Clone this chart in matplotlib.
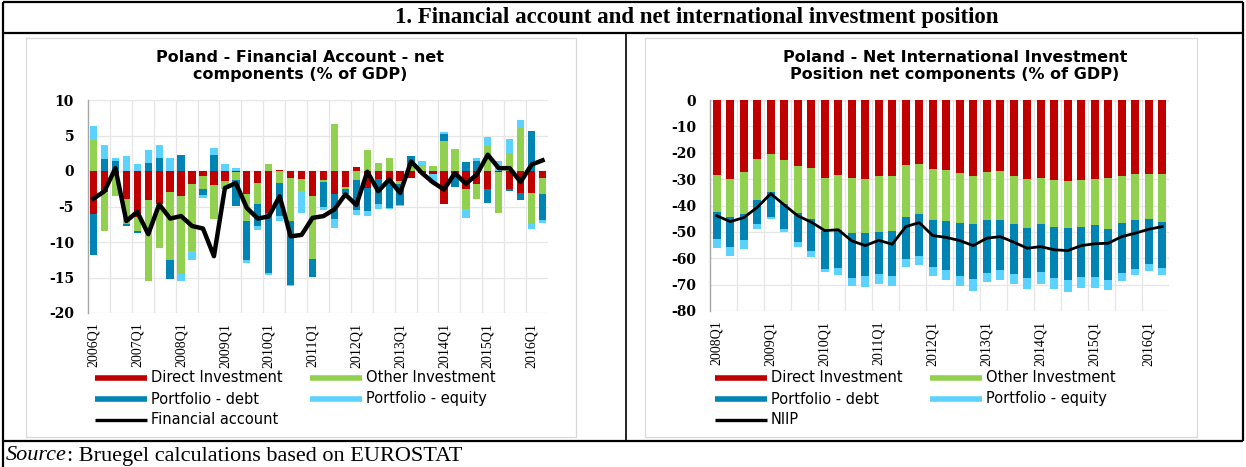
import numpy as np
import matplotlib
matplotlib.use('Agg')
import matplotlib.pyplot as plt

plt.rcParams['axes.unicode_minus'] = False

W, H = 1246, 467

# colours (Excel style)
C_DI = '#C00000'
C_OI = '#92D050'
C_PD = '#0084B4'
C_PE = '#5BD2FF'

# ---- left chart: financial account, 2006Q1 .. 2016Q2 (% of GDP)
fa_ticks = ['2006Q1', '2007Q1', '2008Q1', '2009Q1', '2010Q1', '2011Q1',
            '2012Q1', '2013Q1', '2014Q1', '2015Q1', '2016Q1']
fa_direct = [-6.1, -2.9, -0.6, -4.0, -6.5, -4.15, -4.6, -2.9, -3.55, -1.8,
             -0.75, -2.0, -1.35, -0.2, -3.3, -1.7, -5.9, 0.1, -1.0, -1.1,
             -3.55, -1.3, -3.2, -2.3, 0.5, -2.4, -1.1, -1.35, -1.4, -1.0,
             -0.3, -0.4, -4.65, -0.3, -2.55, -1.9, -2.6, -0.2, -2.55, -3.1,
             -3.1, -1.0]
fa_other = [4.3, -5.5, -2.9, -3.4, -1.9, -11.3, -6.3, -9.6, -11.0, -9.5,
            -1.8, -4.7, -1.2, -1.0, -3.7, -3.0, 1.0, -1.7, -6.1, -1.7,
            -8.9, -0.2, 6.6, -0.3, -1.25, 3.0, 1.1, 1.9, -0.4, 0.65,
            0.9, 0.7, 4.25, 2.9, -2.8, -2.0, 3.5, -5.7, 2.5, 6.1,
            -4.4, -2.2]
fa_debt = [-5.8, 1.7, 1.35, -0.4, -0.3, 1.1, 1.8, -2.7, 2.3, 0.0,
           -0.8, 2.3, 0.0, -3.8, -5.6, -3.0, -8.4, -4.6, -8.9, 0.0,
           -2.5, -3.6, -3.6, -0.6, -4.3, -3.3, -3.5, -3.8, -3.0, 1.5,
           0.0, 0.0, 0.95, -1.9, 1.3, 1.45, -1.9, 0.0, -0.3, -1.05,
           5.65, -3.7]
fa_equity = [2.1, 1.9, 0.5, 2.15, 1.0, 1.8, 1.9, 1.9, -0.9, -1.2,
             -0.45, 0.95, 1.0, 0.4, -0.3, -0.6, -0.4, -0.8, -0.25, -3.1,
             0.0, -0.4, -1.2, 0.0, -0.6, -0.6, -0.8, -0.25, -0.2, 0.0,
             0.5, -1.25, 0.35, 0.15, -1.2, 0.35, 1.3, 1.45, 2.0, 1.1,
             -0.7, -0.4]
fa_total = [-3.9, -2.85, 0.4, -7.05, -5.75, -8.9, -4.7, -6.7, -6.35, -7.75,
            -8.1, -12.0, -2.4, -1.7, -5.2, -6.7, -6.4, -3.55, -9.2, -9.0,
            -6.6, -6.35, -5.4, -3.3, -4.8, -0.1, -2.85, -1.2, -3.1, 1.35,
            -0.3, -1.6, -2.6, -0.3, -1.8, -0.5, 2.3, 0.4, 0.4, -1.55,
            0.9, 1.5]

# ---- right chart: NIIP, 2008Q1 .. 2016Q2 (% of GDP)
niip_ticks = ['2008Q1', '2009Q1', '2010Q1', '2011Q1', '2012Q1', '2013Q1',
              '2014Q1', '2015Q1', '2016Q1']
ni_direct = [-28.4, -29.9, -27.4, -22.5, -20.5, -22.9, -25.0, -25.9, -29.4, -28.4,
             -29.7, -30.0, -28.7, -28.8, -24.6, -24.4, -26.3, -26.5, -27.8, -28.7,
             -27.4, -27.1, -28.8, -30.0, -29.7, -30.4, -30.9, -30.3, -29.9, -29.7,
             -28.7, -28.2, -27.9, -28.2]
ni_other = [-13.9, -14.3, -15.9, -15.5, -14.5, -16.6, -17.9, -19.2, -20.2, -20.8,
            -20.8, -20.5, -21.2, -20.8, -19.6, -18.9, -19.2, -19.2, -18.9, -18.4,
            -18.1, -18.4, -18.3, -18.4, -17.4, -17.6, -17.7, -17.8, -17.4, -19.2,
            -18.0, -17.3, -17.2, -17.9]
ni_debt = [-10.4, -11.7, -9.7, -9.0, -9.2, -9.4, -11.0, -12.1, -14.5, -14.5,
           -16.8, -16.3, -16.1, -17.3, -16.0, -16.0, -18.0, -18.7, -20.2, -20.8,
           -20.2, -18.9, -18.9, -18.9, -18.3, -19.6, -19.6, -18.9, -19.7, -19.3,
           -19.0, -18.5, -17.1, -17.7]
ni_equity = [-3.5, -3.3, -3.4, -1.9, -1.1, -1.2, -2.0, -2.5, -1.3, -2.8,
             -3.4, -4.0, -3.8, -3.8, -3.3, -3.2, -3.4, -3.8, -3.8, -4.4,
             -3.4, -3.8, -3.8, -4.3, -4.4, -4.0, -4.7, -4.1, -4.3, -3.8,
             -3.1, -2.5, -2.8, -2.5]
ni_total = [-43.9, -46.1, -44.6, -40.7, -35.5, -39.8, -43.9, -46.3, -49.5, -49.2,
            -53.4, -55.2, -53.2, -54.7, -48.0, -46.5, -51.4, -52.1, -53.3, -55.2,
            -52.4, -51.8, -53.9, -56.2, -55.6, -56.8, -57.1, -55.2, -54.5, -54.3,
            -51.8, -50.5, -49.0, -48.0]

legend_names = ['Direct Investment', 'Other Investment',
                'Portfolio - debt', 'Portfolio - equity']
comp_colors = [C_DI, C_OI, C_PD, C_PE]

SANS = 'DejaVu Sans'
SERIF = 'Liberation Serif'


def px_axes(fig, x0, y0, x1, y1):
    # pixel box (top-left origin) -> figure axes
    return fig.add_axes([x0 / W, 1 - y1 / H, (x1 - x0) / W, (y1 - y0) / H])


def stacked(ax, series, colors, width):
    x = np.arange(len(series[0]))
    pos = np.zeros(len(x))
    neg = np.zeros(len(x))
    for vals, c in zip(series, colors):
        v = np.asarray(vals, float)
        bottom = np.where(v >= 0, pos, neg)
        ax.bar(x, v, width, bottom=bottom, color=c, linewidth=0, zorder=2)
        pos += np.clip(v, 0, None)
        neg += np.clip(v, None, 0)
    return x


def style_axes(ax, n, ylim, ystep, ticks):
    ax.set_facecolor('none')
    ax.set_xlim(-0.5, n - 0.5)
    ax.set_ylim(*ylim)
    ax.set_yticks(np.arange(ylim[0], ylim[1] + 0.1, ystep))
    ax.set_xticks(np.arange(0, n, 4))
    ax.set_xticklabels(ticks, rotation=90, family=SERIF, fontsize=10)
    for lab in ax.get_yticklabels():
        lab.set_family('DejaVu Serif')
        lab.set_fontweight('bold')
        lab.set_fontsize(10)
    ax.tick_params(length=0, pad=7)
    ax.tick_params(axis='y', pad=10)
    for g in np.arange(1.5, n - 0.5, 2):
        ax.axvline(g, color='#e6e6e6', lw=0.9, zorder=0)
    ax.grid(axis='y', color='#e6e6e6', lw=0.9, zorder=0)
    for s in ['top', 'right', 'bottom']:
        ax.spines[s].set_visible(False)
    ax.spines['left'].set_color('#a6a6a6')
    ax.spines['left'].set_linewidth(1.0)
    ax.axhline(0, color='#999999', lw=0.9, zorder=1)


fig = plt.figure(figsize=(W / 100, H / 100), dpi=100)

# overlay for frames and free text
ov = fig.add_axes([0, 0, 1, 1])
ov.set_xlim(0, W)
ov.set_ylim(H, 0)
ov.axis('off')

k = dict(color='black', lw=1.6, solid_capstyle='butt')
ov.plot([3, 1243], [2, 2], **k)
ov.plot([3, 1243], [33, 33], **k)
ov.plot([3, 1243], [441, 441], **k)
ov.plot([3, 3], [2, 467], **k)
ov.plot([1243, 1243], [2, 441], **k)
ov.plot([626, 626], [33, 441], color='black', lw=1.2)
# chart frames
for fx0, fx1 in [(26, 576), (645, 1197)]:
    ov.plot([fx0, fx1, fx1, fx0, fx0], [38, 38, 437, 437, 38],
            color='#d9d9d9', lw=0.9)

ov.text(697, 18, '1. Financial account and net international investment position',
        ha='center', va='center', family=SERIF, weight='bold', fontsize=16.5)
src = ov.text(6, 456, 'Source', ha='left', va='center', family=SERIF,
              style='italic', fontsize=16)
ov.annotate(': Bruegel calculations based on EUROSTAT', xy=(1, 0.5), xycoords=src,
            ha='left', va='center', family=SERIF, fontsize=16)

for cx, lines in [(300, ['Poland - Financial Account - net', 'components (% of GDP)']),
                  (955, ['Poland - Net International Investment',
                         'Position net components (% of GDP)'])]:
    for ly, txt in zip([57, 75], lines):
        ov.text(cx, ly, txt, ha='center', va='center', family=SANS,
                weight='bold', fontsize=11.5)

# ---- left chart
ax1 = px_axes(fig, 88, 100, 548, 313)
stacked(ax1, [fa_direct, fa_other, fa_debt, fa_equity], comp_colors, 0.67)
ax1.plot(np.arange(len(fa_total)), fa_total, color='black', lw=3.2, zorder=3,
         solid_joinstyle='round')
style_axes(ax1, len(fa_total), (-20, 10), 5, fa_ticks)

# ---- right chart
ax2 = px_axes(fig, 710, 100, 1169, 311)
stacked(ax2, [ni_direct, ni_other, ni_debt, ni_equity], comp_colors, 0.62)
ax2.plot(np.arange(len(ni_total)), ni_total, color='black', lw=2.0, zorder=3)
style_axes(ax2, len(ni_total), (-80, 0), 10, niip_ticks)


# legends (drawn as keys + labels in the overlay)
def draw_legend(x0, x2, last_name):
    rows = [378, 399, 420]
    keys = [(x0, rows[0], 0), (x2, rows[0], 1), (x0, rows[1], 2), (x2, rows[1], 3)]
    for kx, ky, i in keys:
        ov.plot([kx, kx + 52], [ky, ky], color=comp_colors[i], lw=4, solid_capstyle='butt')
        ov.text(kx + 56, ky, legend_names[i], va='center', ha='left',
                family=SANS, fontsize=10.5)
    ov.plot([x0, x0 + 52], [rows[2], rows[2]], color='black', lw=2.4, solid_capstyle='butt')
    ov.text(x0 + 56, rows[2], last_name, va='center', ha='left', family=SANS, fontsize=10.5)


draw_legend(95, 310, 'Financial account')
draw_legend(715, 930, 'NIIP')

fig.savefig('out.png', dpi=100)
